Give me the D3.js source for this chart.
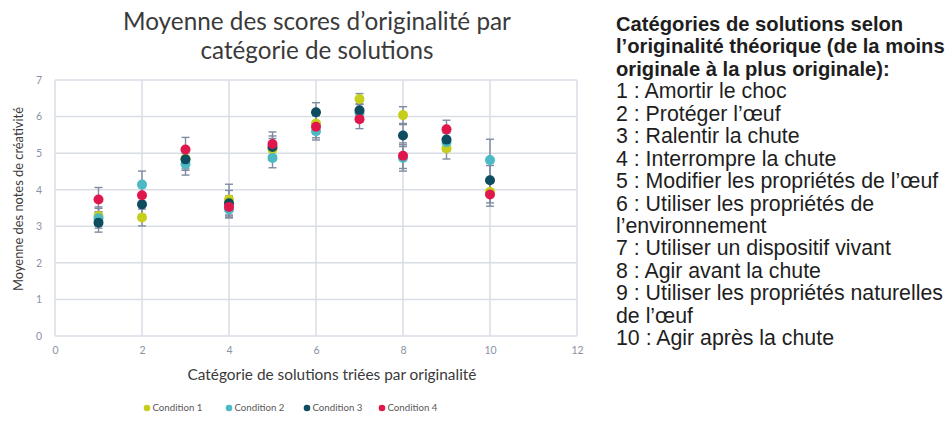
<!DOCTYPE html>
<html>
<head>
<meta charset="utf-8">
<script src="https://cdn.jsdelivr.net/npm/d3@7"></script>
<style>
  html, body { margin: 0; padding: 0; background: #ffffff; }
  svg { display: block; font-family: Lato, "Open Sans", sans-serif; }
</style>
</head>
<body>
<svg id="chart" width="947" height="422"></svg>
<script>
// Solution categories (x positions) and mean originality score per condition
const categories = [1, 2, 3, 4, 5, 6, 7, 8, 9, 10];
const seriesNames = ["Condition 1", "Condition 2", "Condition 3", "Condition 4"];
const seriesColors = ["#c5cf1c", "#4cb9c5", "#0e4c60", "#e0174c"];
const condition1 = [3.28, 3.24, 4.85, 3.73, 5.10, 5.81, 6.48, 6.04, 5.13, 3.94];
const condition2 = [3.22, 4.14, 4.70, 3.46, 4.87, 5.60, 6.10, 4.87, 5.30, 4.81];
const condition3 = [3.10, 3.60, 4.83, 3.63, 5.17, 6.12, 6.17, 5.48, 5.37, 4.26];
const condition4 = [3.73, 3.85, 5.10, 3.53, 5.25, 5.72, 5.93, 4.93, 5.65, 3.87];
// Error bar half-widths (standard error) per condition
const error1 = [0.25, 0.23, 0.28, 0.42, 0.30, 0.28, 0.15, 0.23, 0.29, 0.30];
const error2 = [0.27, 0.37, 0.30, 0.22, 0.27, 0.24, 0.25, 0.36, 0.25, 0.57];
const error3 = [0.26, 0.28, 0.30, 0.35, 0.30, 0.26, 0.25, 0.30, 0.25, 0.40];
const error4 = [0.33, 0.30, 0.33, 0.30, 0.33, 0.30, 0.26, 0.35, 0.25, 0.32];
const xTicks = [0, 2, 4, 6, 8, 10, 12];
const yTicks = [0, 1, 2, 3, 4, 5, 6, 7];

const titleLines = ["Moyenne des scores d\u2019originalit\u00e9 par", "cat\u00e9gorie de solutions"];
const xTitle = "Cat\u00e9gorie de solutions tri\u00e9es par originalit\u00e9";
const yTitle = "Moyenne des notes de cr\u00e9ativit\u00e9";
const noteHeading = [
  "Cat\u00e9gories de solutions selon",
  "l\u2019originalit\u00e9 th\u00e9orique (de la moins",
  "originale \u00e0 la plus originale):"
];
const noteLines = [
  "1 : Amortir le choc",
  "2 : Prot\u00e9ger l\u2019\u0153uf",
  "3 : Ralentir la chute",
  "4 : Interrompre la chute",
  "5 : Modifier les propri\u00e9t\u00e9s de l\u2019\u0153uf",
  "6 : Utiliser les propri\u00e9t\u00e9s de",
  "l\u2019environnement",
  "7 : Utiliser un dispositif vivant",
  "8 : Agir avant la chute",
  "9 : Utiliser les propri\u00e9t\u00e9s naturelles",
  "de l\u2019\u0153uf",
  "10 : Agir apr\u00e8s la chute"
];

const values = [condition1, condition2, condition3, condition4];
const errors = [error1, error2, error3, error4];
const series = seriesNames.map((name, i) => ({
  name, color: seriesColors[i],
  points: categories.map((c, j) => ({ x: c, y: values[i][j], e: errors[i][j] }))
}));

const svg = d3.select("#chart");

// Scale a text element's font size so that its rendered width equals `w`
function fitWidth(sel, w) {
  sel.each(function () {
    const fs = parseFloat(this.getAttribute("font-size"));
    const len = this.getComputedTextLength();
    if (len > 0) this.setAttribute("font-size", (fs * w / len).toFixed(2));
  });
}
// Size a group of lines so that its reference line reaches width `w`
function fitBlock(block, refNode, w) {
  const fs = parseFloat(refNode.getAttribute("font-size"));
  const len = refNode.getComputedTextLength();
  block.attr("font-size", (fs * w / len).toFixed(2));
}

const x = d3.scaleLinear().domain([0, 12]).range([55, 577]);
const y = d3.scaleLinear().domain([0, 7]).range([336, 80]);

// Grid
const grid = svg.append("g").attr("stroke", "#d9dde4").attr("stroke-width", 1.5);
grid.selectAll("line.h").data(yTicks).join("line")
  .attr("x1", x(0)).attr("x2", x(12))
  .attr("y1", d => y(d)).attr("y2", d => y(d));
grid.selectAll("line.v").data(xTicks).join("line")
  .attr("y1", y(0)).attr("y2", y(7))
  .attr("x1", d => x(d)).attr("x2", d => x(d));

// Axes (labels only; the grid provides the lines)
const xAxis = svg.append("g").attr("transform", `translate(0,${y(0) + 11})`)
  .call(d3.axisBottom(x).tickValues(xTicks).tickFormat(d3.format("d")).tickSize(0).tickPadding(0));
const yAxis = svg.append("g").attr("transform", `translate(${x(0) - 13},0)`)
  .call(d3.axisLeft(y).tickValues(yTicks).tickFormat(d3.format("d")).tickSize(0).tickPadding(0));
[xAxis, yAxis].forEach(a => {
  a.select(".domain").remove();
  a.selectAll("text").attr("font-family", "Lato, sans-serif")
    .attr("font-size", 10.5).attr("fill", "#8a93a3");
});
xAxis.selectAll("text").attr("dy", "0.71em");

// Error bars
const capW = 4;
const eb = svg.append("g").attr("stroke", "#7f8ba0").attr("stroke-width", 1.4).attr("fill", "none");
series.forEach(s => {
  const g = eb.append("g");
  g.selectAll("line.stem").data(s.points).join("line")
    .attr("x1", d => x(d.x)).attr("x2", d => x(d.x))
    .attr("y1", d => y(d.y + d.e)).attr("y2", d => y(d.y - d.e));
  g.selectAll("line.top").data(s.points).join("line")
    .attr("x1", d => x(d.x) - capW).attr("x2", d => x(d.x) + capW)
    .attr("y1", d => y(d.y + d.e)).attr("y2", d => y(d.y + d.e));
  g.selectAll("line.bot").data(s.points).join("line")
    .attr("x1", d => x(d.x) - capW).attr("x2", d => x(d.x) + capW)
    .attr("y1", d => y(d.y - d.e)).attr("y2", d => y(d.y - d.e));
});

// Markers
series.forEach(s => {
  svg.append("g").selectAll("circle").data(s.points).join("circle")
    .attr("cx", d => x(d.x)).attr("cy", d => y(d.y))
    .attr("r", 5).attr("fill", s.color);
});

// Title
svg.append("g").selectAll("text").data(titleLines).join("text")
  .attr("x", 317).attr("y", (d, i) => 30 + i * 29)
  .attr("text-anchor", "middle").attr("font-size", 20).attr("fill", "#3a3a3a")
  .text(d => d)
  .call(sel => sel.each(function (d, i) { fitWidth(d3.select(this), i === 0 ? 388 : 233); }));

// Axis titles
svg.append("text").attr("x", 332).attr("y", 380).attr("text-anchor", "middle")
  .attr("font-size", 14).attr("fill", "#3a3a3a").text(xTitle)
  .call(s => fitWidth(s, 289));
svg.append("text").attr("transform", "translate(23,199) rotate(-90)")
  .attr("text-anchor", "middle").attr("font-size", 12.5).attr("fill", "#3a3a3a")
  .text(yTitle).call(s => fitWidth(s, 184));

// Legend
const legendX = [147, 229, 307, 382];
const legend = svg.append("g").selectAll("g").data(series).join("g")
  .attr("transform", (d, i) => `translate(${legendX[i]},408)`);
legend.append("circle").attr("r", 3.3).attr("fill", d => d.color);
legend.append("text").attr("x", 5.5).attr("dy", "0.35em")
  .attr("font-size", 9.5).attr("fill", "#5a5a5a").text(d => d.name)
  .call(s => fitWidth(s, 50));

// Category key on the right: one text block, one tspan per line
const keyLines = noteHeading.map(t => ({ t, bold: true }))
  .concat(noteLines.map(t => ({ t, bold: false })));
const key = svg.append("text")
  .attr("x", 616).attr("y", 31)
  .attr("fill", "#1e1e1e").attr("font-family", "'Liberation Sans', Arial, sans-serif");
const spans = key.selectAll("tspan").data(keyLines).join("tspan")
  .attr("x", 616)
  .attr("dy", (d, i) => i === 0 ? 0 : 22.45)
  .attr("font-weight", d => d.bold ? "bold" : null)
  .attr("font-size", 16)
  .text(d => d.t);
const headSpans = spans.filter(d => d.bold);
const bodySpans = spans.filter(d => !d.bold);
fitBlock(headSpans, headSpans.nodes()[1], 329);
fitBlock(bodySpans, bodySpans.nodes()[9], 327);
</script>
</body>
</html>
